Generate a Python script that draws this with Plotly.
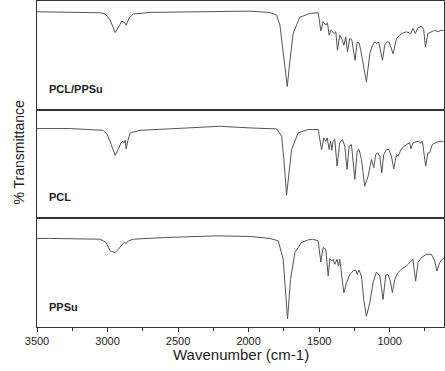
import plotly.graph_objects as go
from plotly.subplots import make_subplots

# wavenumber (cm-1) and transmittance (arbitrary units, 0-100 per panel)
wn_blend = [3500, 3264, 3052, 3016, 2981, 2946, 2917, 2898, 2882, 2868, 2847, 2818, 2698, 2344,
            1991, 1849, 1801, 1778, 1757, 1726, 1707, 1684, 1637, 1566, 1507, 1488, 1472, 1453,
            1441, 1429, 1417, 1405, 1394, 1382, 1370, 1354, 1339, 1325, 1311, 1299, 1283, 1269,
            1245, 1231, 1217, 1205, 1165, 1141, 1122, 1106, 1094, 1078, 1051, 1035, 1023, 1005,
            976, 952, 917, 882, 851, 835, 818, 799, 775, 759, 747, 729, 705, 681, 658, 639, 618]
t_blend = [90.1, 89.8, 89.2, 88, 82.4, 71, 77.8, 81.5, 80.5, 77.8, 84.3, 88, 89.5, 89.8,
           90.7, 89.4, 87, 77.8, 54.6, 21.3, 45.4, 70.4, 85, 88.6, 89.2, 72.5, 80.8, 77.8,
           79.9, 68.5, 73.1, 71.6, 70.1, 71.6, 54.6, 68.5, 65.5, 59.3, 67, 53.1, 65.5, 64.5,
           45.4, 62.3, 61.4, 54.6, 25.3, 51.5, 59.3, 62.3, 60.8, 62.3, 45.4, 59.3, 62.3, 62.3,
           51.5, 65.5, 70.1, 71.6, 70.1, 74.7, 70.1, 75.6, 76.8, 73.8, 57.7, 70.1, 71.6, 73.1, 71.6, 73.1, 72.7]

wn_pcl = [3500, 3264, 3031, 3002, 2974, 2946, 2925, 2903, 2891, 2882, 2875, 2868, 2854, 2840,
          2769, 2486, 2203, 1991, 1801, 1766, 1750, 1731, 1714, 1695, 1649, 1578, 1507, 1483,
          1467, 1453, 1443, 1429, 1419, 1410, 1401, 1389, 1373, 1354, 1335, 1318, 1302, 1288,
          1271, 1247, 1231, 1217, 1200, 1177, 1153, 1129, 1113, 1099, 1085, 1070, 1056, 1042,
          1023, 1005, 988, 971, 952, 941, 917, 882, 858, 849, 835, 799, 782, 768, 745, 729,
          717, 698, 669, 634, 618]
t_pcl = [82.6, 82.6, 81, 77.1, 67.9, 57.8, 63.3, 69.7, 70.9, 69.4, 71.9, 63.9, 72.5, 78.6,
         81, 82.6, 84.7, 83.2, 82.3, 75.5, 54.1, 21.4, 40.4, 63.3, 78.6, 81.7, 81.7, 63.3,
         74, 70.9, 74, 63.3, 70.9, 62.7, 70.9, 72.5, 48, 69.4, 72.5, 66.4, 45, 66.4,
         67.9, 35.8, 61.7, 63.3, 54.1, 29.6, 38.8, 54.1, 46.5, 58.7, 60.2, 57.2, 41.9, 58.7,
         63.3, 63.3, 57.2, 45.6, 58.7, 57.2, 63.9, 67.9, 69.4, 63.9, 69.4, 70.9, 69.4, 70.9, 48, 60.2,
         60.2, 67.9, 70, 70.9, 70.4]

wn_ppsu = [3500, 3406, 3052, 3010, 2981, 2946, 2923, 2898, 2882, 2868, 2852, 2816, 2580, 2226,
           1991, 1849, 1790, 1755, 1724, 1703, 1672, 1625, 1578, 1545, 1507, 1488, 1472, 1453,
           1436, 1424, 1412, 1401, 1389, 1373, 1363, 1354, 1342, 1325, 1306, 1283, 1259, 1240,
           1231, 1217, 1200, 1184, 1165, 1141, 1118, 1094, 1070, 1047, 1028, 1012, 995, 981,
           964, 941, 917, 882, 858, 835, 816, 799, 775, 740, 705, 681, 665, 646, 627, 615]
t_ppsu = [81.5, 81.5, 80.8, 77.8, 70, 68.5, 71.6, 75.3, 77.8, 76.9, 79.3, 80.8, 82.4, 83.9,
          83.3, 81.5, 79.3, 62.3, 7.4, 43.8, 68.5, 77.8, 80.2, 80.8, 79.3, 59.8, 73.1, 71.6,
          46.9, 63, 60.7, 62.3, 57.7, 62.3, 56.1, 62.3, 46.9, 31.5, 40.7, 48.4, 51.5, 52.4,
          48.4, 52.4, 46.9, 25.3, 9.8, 22.2, 40.7, 50.6, 46.9, 25.3, 47.5, 48.4, 42.2, 31.5,
          43.8, 50, 53.1, 56.1, 59.3, 62.3, 42.2, 59.3, 63.9, 66.9, 66.9, 60.7, 51.5, 59.3, 62.3, 63.9]

samples = ["PCL/PPSu", "PCL", "PPSu"]
spectra = [(wn_blend, t_blend), (wn_pcl, t_pcl), (wn_ppsu, t_ppsu)]

fig = make_subplots(rows=3, cols=1, shared_xaxes=True, vertical_spacing=0)

frame = "#333333"
for i, ((wn, t), name) in enumerate(zip(spectra, samples), start=1):
    fig.add_trace(go.Scatter(x=wn, y=t, mode="lines", line=dict(color="#555555", width=1),
                             showlegend=False), row=i, col=1)
    fig.update_yaxes(range=[0, 100], showline=True, mirror=True, linecolor=frame, linewidth=1,
                     showticklabels=False, ticks="", showgrid=False, zeroline=False,
                     automargin=False, row=i, col=1)
    fig.update_xaxes(range=[3500, 615], showline=True, mirror=True, linecolor=frame, linewidth=1,
                     showgrid=False, zeroline=False, automargin=False, row=i, col=1)
    ysuf = "" if i == 1 else str(i)
    fig.add_annotation(text="<b>" + name + "</b>", xref="x" + ysuf + " domain", yref="y" + ysuf + " domain",
                       x=0.024, y=[0.19, 0.2, 0.18][i - 1], xanchor="left", yanchor="middle",
                       showarrow=False, font=dict(size=11, color="#222222"))

fig.update_xaxes(ticks="outside", ticklen=4, tickcolor=frame, dtick=500, tick0=500,
                 minor=dict(ticks="outside", ticklen=3, dtick=250, tickcolor=frame),
                 tickfont=dict(size=11), row=3, col=1)

fig.add_annotation(text="Wavenumber (cm-1)", xref="paper", yref="paper", x=0.5, y=-0.085,
                   xanchor="center", yanchor="middle", showarrow=False, font=dict(size=15, color="#222222"))
fig.add_annotation(text="% Transmittance", xref="paper", yref="paper", x=-0.069, y=0.535,
                   textangle=-90, showarrow=False, font=dict(size=14, color="#222222"))

fig.update_layout(width=445, height=371, margin=dict(l=37, r=1, t=1, b=44),
                  plot_bgcolor="white", paper_bgcolor="white",
                  font=dict(family="Arial, Liberation Sans, sans-serif", color="#222222"))

# page has a default 8px body margin; drop it so the figure sits at the window corner
fig.write_html("out.html", config={"displayModeBar": False},
               post_script="document.body.style.margin='0';")
